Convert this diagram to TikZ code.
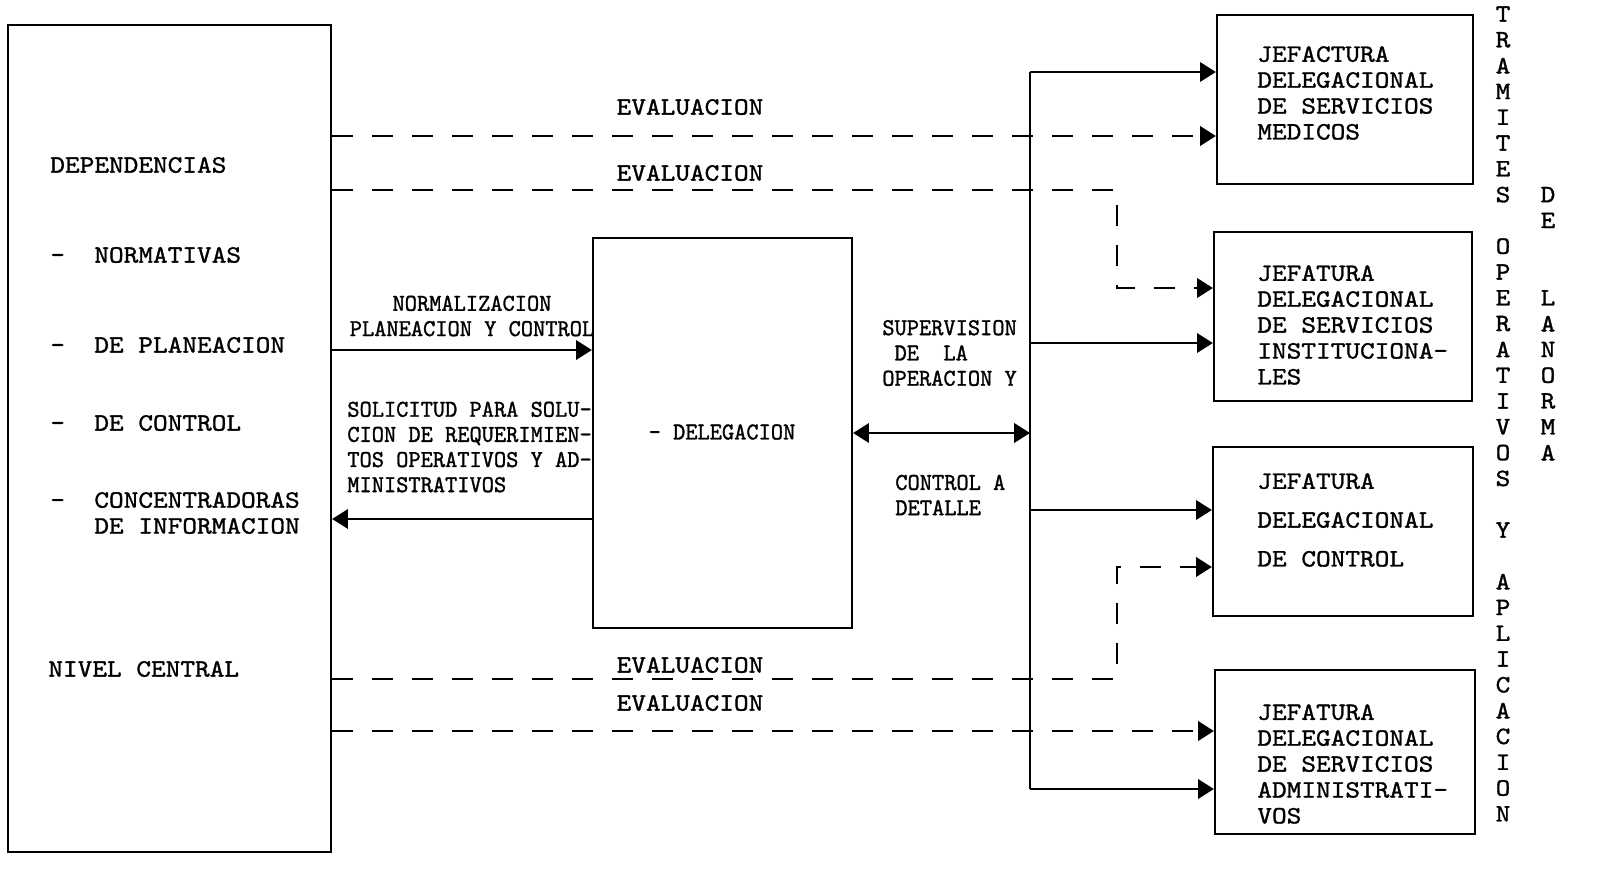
\documentclass[tikz,border=0pt]{standalone}
\usepackage{fontspec}
\setmainfont{lmmono10-regular.otf}[FakeStretch=1.12, FakeBold=1.2]
\newfontfamily\estrecha{lmmono10-regular.otf}[FakeStretch=0.96, FakeBold=1.2]
\usetikzlibrary{positioning, calc, arrows.meta}

\tikzset{
  caja/.style={draw, line width=1.3pt, inner sep=0pt},
  txt/.style={font=\fontsize{14.2}{14.74}\selectfont, inner sep=0pt, align=left, anchor=west},
  txtm/.style={font=\estrecha\fontsize{13.8}{14.4}\selectfont, inner sep=0pt, align=left, anchor=west},
  letra/.style={font=\fontsize{14.2}{14.74}\selectfont, inner sep=0pt},
  flecha/.style={line width=1.3pt, -{Triangle[length=9pt,width=11pt]}},
  discont/.style={flecha, line width=1.6pt, dash pattern=on 0.42cm off 0.38cm},
}

\begin{document}
\begin{tikzpicture}[x=0.02cm, y=-0.02cm]
      \useasboundingbox (0,0) rectangle (1615,879);
      % cajas
      \node[caja, minimum width=6.46cm, minimum height=16.54cm] (dep) at (169.5,438.5) {};
      \node[caja, minimum width=5.18cm, minimum height=7.8cm] (del) at (722.5,433) {};
      \node[caja, minimum width=5.12cm, minimum height=3.38cm] (jsm) at (1345,99.5) {};
      \node[caja, minimum width=5.16cm, minimum height=3.38cm] (jsi) at (1343,316.5) {};
      \node[caja, minimum width=5.2cm, minimum height=3.38cm] (jdc) at (1343,531.5) {};
      \node[caja, minimum width=5.2cm, minimum height=3.28cm] (jsa) at (1345,752) {};
      % nivel central
      \node[txt] (t1) at (50,165) {DEPENDENCIAS};
      \node[txt] (t2) at (50,255) {-~~NORMATIVAS};
      \node[txt] (t3) at (50,345) {-~~DE PLANEACION};
      \node[txt] (t4) at (50,423) {-~~DE CONTROL};
      \node[txt] (t5) at (50,513) {-~~CONCENTRADORAS\\\phantom{-~~}DE INFORMACION};
      \node[txt] (t6) at (48,669) {NIVEL CENTRAL};
      % delegacion
      \node[txtm, anchor=center] (del-t) at (722,432) {- DELEGACION};
      \draw[flecha] (dep.east |- 0,350) -- (del.west |- 0,350);
      \node[txtm, align=center, anchor=center] (norm) at (472,316) {NORMALIZACION\\PLANEACION Y CONTROL};
      \draw[flecha] (del.west |- 0,519) -- (dep.east |- 0,519);
      \node[txtm, font=\estrecha\fontsize{13.8}{14.3}\selectfont] (sol) at (347,447) {SOLICITUD PARA SOLU-\\CION DE REQUERIMIEN-\\TOS OPERATIVOS Y AD-\\MINISTRATIVOS};
      % supervision
      \coordinate (bt) at (1030,72);
      \coordinate (bb) at (1030,789);
      \draw[line width=1.3pt] (bt) -- (bb);
      \draw[line width=1.3pt, {Triangle[length=9pt,width=11pt]}-{Triangle[length=9pt,width=11pt]}] (del.east) -- (del.east -| bt);
      \node[txtm] (sup) at (882,353) {SUPERVISION\\~DE~~LA\\OPERACION Y};
      \node[txtm] (ctl) at (895,495) {CONTROL A\\DETALLE};
      \draw[flecha] (bt) -- (bt -| jsm.west);
      \draw[flecha] (bt |- 0,343) -- (jsi.west |- 0,343);
      \draw[flecha] (bt |- 0,510) -- (jdc.west |- 0,510);
      \draw[flecha] (bb) -- (bb -| jsa.west);
      % evaluacion
      \draw[discont] (dep.east |- 0,136) -- (jsm.west |- 0,136);
      \draw[discont] (dep.east |- 0,190) -- (1117,190) -- (1117,288) -- (jsi.west |- 0,288);
      \draw[discont] (dep.east |- 0,679) -- (1117,679) -- (1117,567) -- (jdc.west |- 0,567);
      \draw[discont] (dep.east |- 0,731) -- (jsa.west |- 0,731);
      \node[txt, anchor=center] (ev1) at (690,107) {EVALUACION};
      \node[txt, anchor=center] (ev2) at (690,173) {EVALUACION};
      \node[txt, anchor=center] (ev3) at (690,665) {EVALUACION};
      \node[txt, anchor=center] (ev4) at (690,703) {EVALUACION};
      % jefaturas
      \node[txt] (jsm-t) at (1257,93) {JEFACTURA\\DELEGACIONAL\\DE SERVICIOS\\MEDICOS};
      \node[txt] (jsi-t) at (1257,325) {JEFATURA\\DELEGACIONAL\\DE SERVICIOS\\INSTITUCIONA-\\LES};
      \node[txt, font=\fontsize{14.2}{22.1}\selectfont] (jdc-t) at (1257,520) {JEFATURA\\DELEGACIONAL\\DE CONTROL};
      \node[txt] (jsa-t) at (1257,764) {JEFATURA\\DELEGACIONAL\\DE SERVICIOS\\ADMINISTRATI-\\VOS};
      % texto vertical
      \foreach \ch [count=\r from 0] in {T,R,A,M,I,T,E,S,{},O,P,E,R,A,T,I,V,O,S,{},Y,{},A,P,L,I,C,A,C,I,O,N}
        \node[letra] (v1-\r) at (1503,14+25.8*\r) {\ch};
      \foreach \ch [count=\r from 7] in {D,E,{},{},L,A,N,O,R,M,A}
        \node[letra] (v2-\r) at (1548,14+25.8*\r) {\ch};
    \end{tikzpicture}
\end{document}
